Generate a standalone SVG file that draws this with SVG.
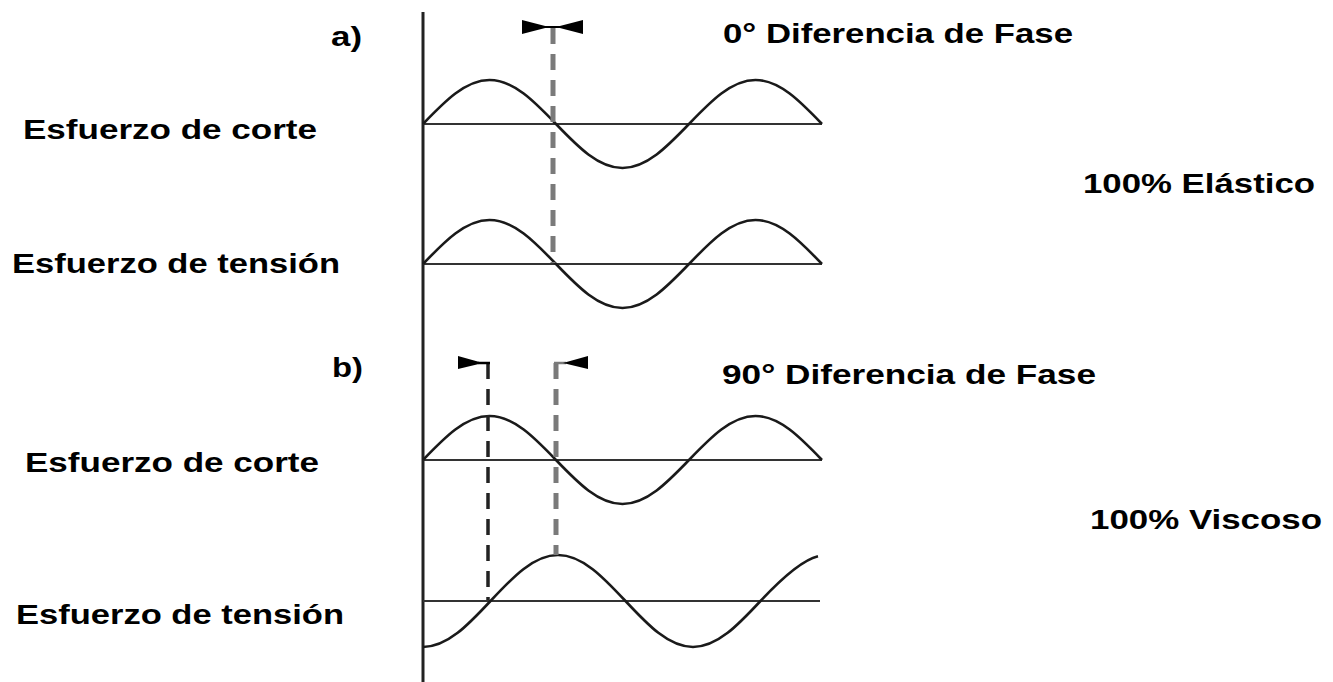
<svg xmlns="http://www.w3.org/2000/svg" width="1333" height="682" viewBox="0 0 1333 682">
<style>
.t{font-family:"Liberation Sans",Arial,sans-serif;font-weight:bold;font-size:27px;fill:#000}
.wave{fill:none;stroke:#1a1a1a;stroke-width:2.6}
.base{stroke:#333;stroke-width:2.2}
.gdash{stroke:#7a7a7a;stroke-width:5;stroke-dasharray:16 10;fill:none}
.bdash{stroke:#222;stroke-width:3.5;stroke-dasharray:16 10;fill:none}
.mk{fill:#000}
</style>
<rect width="1333" height="682" fill="#fff"/>
<g id="axis"><line x1="423" y1="12" x2="423" y2="682" stroke="#222" stroke-width="3"/></g>

<g id="labels">
<text class="t" x="331" y="46" textLength="31" lengthAdjust="spacingAndGlyphs">a)</text>
<text class="t" x="723" y="43" textLength="350" lengthAdjust="spacingAndGlyphs">0° Diferencia de Fase</text>
<text class="t" x="23" y="139" textLength="294" lengthAdjust="spacingAndGlyphs">Esfuerzo de corte</text>
<text class="t" x="1083" y="193" textLength="232" lengthAdjust="spacingAndGlyphs">100% Elástico</text>
<text class="t" x="12" y="273" textLength="328" lengthAdjust="spacingAndGlyphs">Esfuerzo de tensión</text>
<text class="t" x="332" y="377" textLength="31" lengthAdjust="spacingAndGlyphs">b)</text>
<text class="t" x="722" y="384" textLength="374" lengthAdjust="spacingAndGlyphs">90° Diferencia de Fase</text>
<text class="t" x="25" y="472" textLength="294" lengthAdjust="spacingAndGlyphs">Esfuerzo de corte</text>
<text class="t" x="1090" y="529" textLength="232" lengthAdjust="spacingAndGlyphs">100% Viscoso</text>
<text class="t" x="16" y="624" textLength="328" lengthAdjust="spacingAndGlyphs">Esfuerzo de tensión</text>
</g>

<g id="wave-a1">
<line class="base" x1="423" y1="124" x2="822" y2="124"/>
<path class="wave" d="M423,124 c21.69,-22.54 42.43,-44 66.5,-44 c24.07,0 44.81,21.46 66.5,44 c21.69,22.54 42.43,44 66.5,44 c24.07,0 44.81,-21.46 66.5,-44 c21.69,-22.54 42.43,-44 66.5,-44 c24.07,0 44.81,21.46 66.5,44"/>
</g>
<g id="wave-a2">
<line class="base" x1="423" y1="264" x2="822" y2="264"/>
<path class="wave" d="M423,264 c21.69,-22.54 42.43,-44 66.5,-44 c24.07,0 44.81,21.46 66.5,44 c21.69,22.54 42.43,44 66.5,44 c24.07,0 44.81,-21.46 66.5,-44 c21.69,-22.54 42.43,-44 66.5,-44 c24.07,0 44.81,21.46 66.5,44"/>
</g>
<g id="wave-b1">
<line class="base" x1="423" y1="460" x2="822" y2="460"/>
<path class="wave" d="M423,460 c21.69,-22.54 42.43,-44 66.5,-44 c24.07,0 44.81,21.46 66.5,44 c21.69,22.54 42.43,44 66.5,44 c24.07,0 44.81,-21.46 66.5,-44 c21.69,-22.54 42.43,-44 66.5,-44 c24.07,0 44.81,21.46 66.5,44"/>
</g>
<g id="wave-b2">
<line class="base" x1="423" y1="601" x2="820" y2="601"/>
<path class="wave" d="M423,647 c24.43,0 45.49,-22.43 67.5,-46 c22.01,-23.57 43.07,-46 67.5,-46 c24.43,0 45.49,22.43 67.5,46 c22.01,23.57 43.07,46 67.5,46 c24.43,0 45.49,-22.43 67.5,-46 c18,-19.3 39.5,-40.4 57.5,-44.8"/>
</g>

<g id="connectors">
<g id="phase-a">
<line class="gdash" x1="553" y1="28" x2="553" y2="263"/>
<line x1="540" y1="27" x2="566" y2="27" stroke="#000" stroke-width="2"/>
<polygon class="mk" points="522,20 549,27 522,34"/>
<polygon class="mk" points="583,20 556,27 583,34"/>
</g>
<g id="phase-b">
<line class="bdash" x1="488" y1="363" x2="488" y2="600"/>
<line class="gdash" x1="556" y1="363" x2="556" y2="555"/>
<line x1="478" y1="363" x2="490" y2="363" stroke="#000" stroke-width="2.5"/>
<line x1="554" y1="363" x2="566" y2="363" stroke="#7a7a7a" stroke-width="2.5"/>
<polygon class="mk" points="458,356 483,363 458,369"/>
<polygon class="mk" points="588,356 563,363 588,369"/>
</g>
</g>
</svg>
